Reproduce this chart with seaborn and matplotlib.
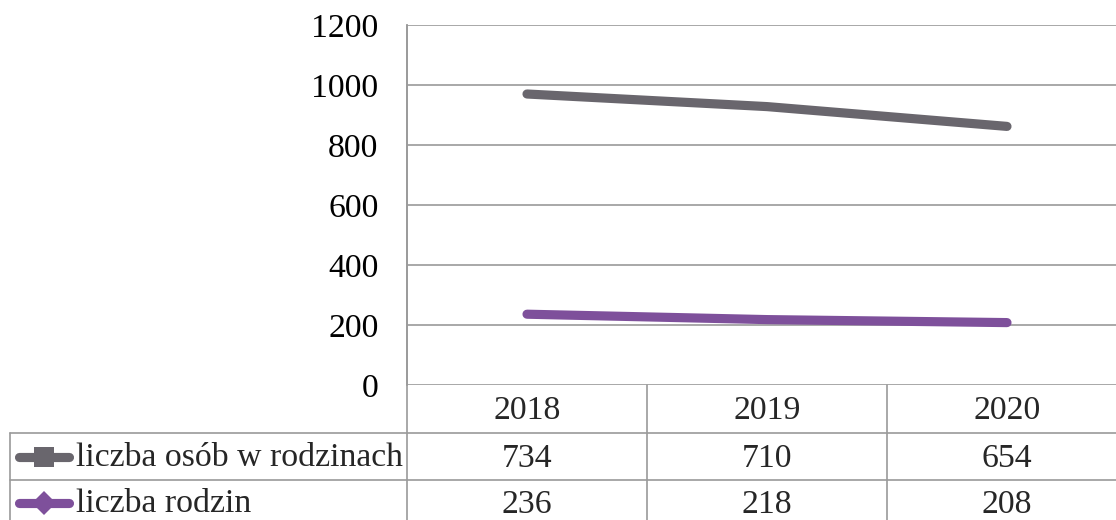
import matplotlib
matplotlib.use("Agg")
import matplotlib.pyplot as plt
from matplotlib.lines import Line2D
import seaborn as sns
import pandas as pd
import numpy as np

years = ["2018", "2019", "2020"]
persons = [734, 710, 654]      # liczba osób w rodzinach
families = [236, 218, 208]     # liczba rodzin
series_names = ["liczba osób w rodzinach", "liczba rodzin"]
yticks = [0, 200, 400, 600, 800, 1000, 1200]

GRAY = "#69666d"
PURPLE = "#7e509b"
GRID = "#9a9a9a"

sns.set_theme(style="white")
plt.rcParams["font.family"] = ["Liberation Serif", "DejaVu Serif"]
FS = 24.3

W, H = 1116, 520
fig = plt.figure(figsize=(W / 100, H / 100), dpi=100)
L, R, T, B = 407, 1127, 25, 385
ax = fig.add_axes([L / W, 1 - B / H, (R - L) / W, (B - T) / H])

# stacked line chart: families at bottom, persons stacked on top
x = np.arange(len(years))
stacked_persons = [p + f for p, f in zip(persons, families)]
df = pd.DataFrame({
    "x": list(x) * 2,
    "y": stacked_persons + families,
    "s": [series_names[0]] * 3 + [series_names[1]] * 3,
})
LW = 6.6
sns.lineplot(data=df, x="x", y="y", hue="s",
             palette={series_names[0]: GRAY, series_names[1]: PURPLE},
             linewidth=LW, legend=False, ax=ax, sort=False,
             solid_capstyle="round", zorder=3)

ax.set_xlim(-0.5, 2.5)
ax.set_ylim(0, 1200)
ax.set_yticks(yticks)
ax.set_yticklabels([str(v) for v in yticks], fontsize=FS, color="black")
ax.tick_params(axis="y", length=0, pad=20.5)
ax.set_xticks([])
ax.set_xlabel("")
ax.set_ylabel("")
ax.grid(axis="y", color=GRID, linewidth=1.2)
ax.grid(axis="x", visible=False)
for sp in ["top", "right", "bottom"]:
    ax.spines[sp].set_visible(False)
ax.spines["left"].set_color(GRID)
ax.spines["left"].set_linewidth(1.2)

# data table overlay in pixel coordinates
ov = fig.add_axes([0, 0, 1, 1], facecolor="none")
ov.set_xlim(0, W)
ov.set_ylim(H, 0)
ov.axis("off")
lw = 1.2
col_edges = [L, 647, 887, R]
row1, row2, row3 = 385, 433, 480
# vertical lines
ov.plot([L, L], [T, H], color=GRID, lw=lw)
for cx in col_edges[1:3]:
    ov.plot([cx, cx], [row1, H], color=GRID, lw=lw)
ov.plot([10, 10], [row2, H], color=GRID, lw=lw)
# horizontal lines
ov.plot([10, W], [row2, row2], color=GRID, lw=lw)
ov.plot([10, W], [row3, row3], color=GRID, lw=lw)

centers = [(col_edges[i] + col_edges[i + 1]) / 2 for i in range(3)]
for cx, yr in zip(centers, years):
    ov.text(cx, (row1 + row2) / 2 + 2, yr, ha="center", va="center", fontsize=FS)
for cx, v in zip(centers, persons):
    ov.text(cx, (row2 + row3) / 2 + 2, str(v), ha="center", va="center", fontsize=FS)
for cx, v in zip(centers, families):
    ov.text(cx, (row3 + H) / 2 + 5, str(v), ha="center", va="center", fontsize=FS)

# legend keys
for (yc, col, mk, ms, name) in [((row2 + row3) / 2, GRAY, "s", 14.5, series_names[0]),
                                 ((row3 + H) / 2 + 3, PURPLE, "D", 12.5, series_names[1])]:
    ov.add_line(Line2D([19, 69], [yc, yc], color=col, lw=LW, solid_capstyle="round"))
    ov.add_line(Line2D([44], [yc], marker=mk, color=col, markersize=ms,
                       markeredgewidth=0))
    ov.text(76, yc + 1, name, ha="left", va="center", fontsize=FS)

fig.savefig("out.png", dpi=100)
